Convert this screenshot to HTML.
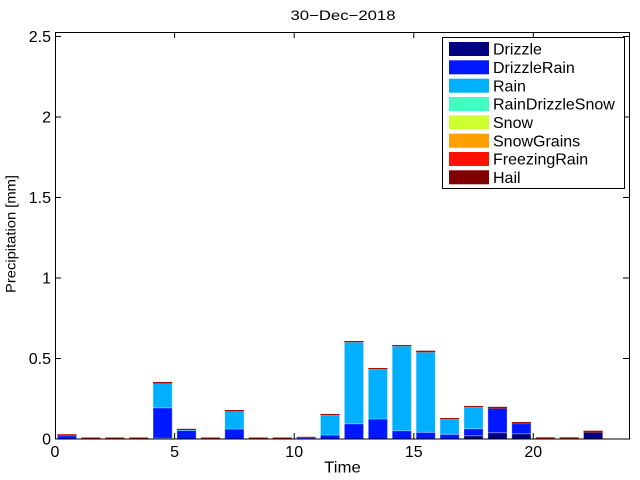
<!DOCTYPE html>
<html><head><meta charset="utf-8"><style>
html,body{margin:0;padding:0;background:#fff;}
svg{display:block;}
text{font-family:"Liberation Sans",Arial,sans-serif;fill:#000;}
</style></head><body>
<svg width="640" height="480" viewBox="0 0 640 480" xmlns="http://www.w3.org/2000/svg">
<rect x="0" y="0" width="640" height="480" fill="#fff"/>
<text x="343" y="20" font-size="14" text-anchor="middle" textLength="105" lengthAdjust="spacingAndGlyphs">30−Dec−2018</text>

<g stroke="#ffffff" stroke-opacity="0.3" stroke-width="1">
<!-- hour 0 -->
<rect x="57.39" y="435.8" width="19.13" height="3.2" fill="#0018ff"/>
<!-- hour 4 -->
<rect x="153.07" y="438.2" width="19.13" height="0.8" fill="#000080"/>
<rect x="153.07" y="407.8" width="19.13" height="30.4" fill="#0018ff"/>
<rect x="153.07" y="383.5" width="19.13" height="24.3" fill="#00b0ff"/>
<!-- hour 5 -->
<rect x="176.98" y="430.5" width="19.13" height="8.5" fill="#0018ff"/>
<rect x="176.98" y="430" width="19.13" height="0.5" fill="#00b0ff"/>
<!-- hour 7 -->
<rect x="224.82" y="429" width="19.13" height="10" fill="#0018ff"/>
<rect x="224.82" y="411" width="19.13" height="18" fill="#00b0ff"/>
<!-- hour 10 -->
<rect x="296.57" y="437.8" width="19.13" height="1.2" fill="#0018ff"/>
<!-- hour 11 -->
<rect x="320.48" y="435" width="19.13" height="4" fill="#0018ff"/>
<rect x="320.48" y="415.2" width="19.13" height="19.8" fill="#00b0ff"/>
<!-- hour 12 -->
<rect x="344.40" y="423.7" width="19.13" height="15.3" fill="#0018ff"/>
<rect x="344.40" y="342.3" width="19.13" height="81.4" fill="#00b0ff"/>
<!-- hour 13 -->
<rect x="368.32" y="419" width="19.13" height="20" fill="#0018ff"/>
<rect x="368.32" y="369.2" width="19.13" height="49.8" fill="#00b0ff"/>
<!-- hour 14 -->
<rect x="392.23" y="430.7" width="19.13" height="8.3" fill="#0018ff"/>
<rect x="392.23" y="346.2" width="19.13" height="84.5" fill="#00b0ff"/>
<!-- hour 15 -->
<rect x="416.15" y="432.3" width="19.13" height="6.7" fill="#0018ff"/>
<rect x="416.15" y="352.3" width="19.13" height="80" fill="#00b0ff"/>
<!-- hour 16 -->
<rect x="440.07" y="434.3" width="19.13" height="4.7" fill="#0018ff"/>
<rect x="440.07" y="419.2" width="19.13" height="15.1" fill="#00b0ff"/>
<!-- hour 17 -->
<rect x="463.98" y="435.7" width="19.13" height="3.3" fill="#000080"/>
<rect x="463.98" y="428.7" width="19.13" height="7" fill="#0018ff"/>
<rect x="463.98" y="407.2" width="19.13" height="21.5" fill="#00b0ff"/>
<!-- hour 18 -->
<rect x="487.90" y="432.7" width="19.13" height="6.3" fill="#000080"/>
<rect x="487.90" y="408.5" width="19.13" height="24.2" fill="#0018ff"/>
<!-- hour 19 -->
<rect x="511.82" y="433.7" width="19.13" height="5.3" fill="#000080"/>
<rect x="511.82" y="423.7" width="19.13" height="10" fill="#0018ff"/>
<!-- hour 22 -->
<rect x="583.57" y="432.5" width="19.13" height="6.5" fill="#000080"/>
</g>

<!-- caps: freezing rain + hail -->
<g>
<rect x="57.39" y="434.2" width="19.13" height="1.6" fill="#c01000"/>
<rect x="81.31" y="437.5" width="19.13" height="1.5" fill="#a01000"/>
<rect x="105.23" y="437.5" width="19.13" height="1.5" fill="#a01000"/>
<rect x="129.15" y="437.5" width="19.13" height="1.5" fill="#a01000"/>
<rect x="153.07" y="382" width="19.13" height="1.5" fill="#a01000"/>
<rect x="176.98" y="428.8" width="19.13" height="1.2" fill="#a01000"/>
<rect x="200.90" y="437.5" width="19.13" height="1.5" fill="#a01000"/>
<rect x="224.82" y="410" width="19.13" height="1.2" fill="#a01000"/>
<rect x="248.73" y="437.5" width="19.13" height="1.5" fill="#a01000"/>
<rect x="272.65" y="437.5" width="19.13" height="1.5" fill="#a01000"/>
<rect x="296.57" y="436.8" width="19.13" height="1.0" fill="#a01000"/>
<rect x="320.48" y="414" width="19.13" height="1.2" fill="#a01000"/>
<rect x="344.40" y="341" width="19.13" height="1.3" fill="#a01000"/>
<rect x="368.32" y="368" width="19.13" height="1.2" fill="#a01000"/>
<rect x="392.23" y="345" width="19.13" height="1.2" fill="#a01000"/>
<rect x="416.15" y="350.7" width="19.13" height="1.6" fill="#a01000"/>
<rect x="440.07" y="418" width="19.13" height="1.2" fill="#a01000"/>
<rect x="463.98" y="406" width="19.13" height="1.2" fill="#a01000"/>
<rect x="487.90" y="406.8" width="19.13" height="1.7" fill="#a01000"/>
<rect x="511.82" y="422" width="19.13" height="1.7" fill="#a01000"/>
<rect x="535.73" y="437.3" width="19.13" height="1.7" fill="#b01800"/>
<rect x="559.65" y="437.3" width="19.13" height="1.7" fill="#b01800"/>
<rect x="583.57" y="430.7" width="19.13" height="1.8" fill="#a01000"/>
</g>

<!-- axes box -->
<rect x="55.5" y="32.5" width="574" height="406.5" fill="none" stroke="#000" stroke-width="1"/>
<!-- x ticks -->
<g stroke="#000" stroke-width="1">
<line x1="174.6" y1="439" x2="174.6" y2="433"/>
<line x1="294.2" y1="439" x2="294.2" y2="433"/>
<line x1="413.8" y1="439" x2="413.8" y2="433"/>
<line x1="533.3" y1="439" x2="533.3" y2="433"/>
<line x1="174.6" y1="32" x2="174.6" y2="38"/>
<line x1="294.2" y1="32" x2="294.2" y2="38"/>
<line x1="413.8" y1="32" x2="413.8" y2="38"/>
<line x1="533.3" y1="32" x2="533.3" y2="38"/>
<!-- y ticks -->
<line x1="55" y1="358.5" x2="61" y2="358.5"/>
<line x1="55" y1="278" x2="61" y2="278"/>
<line x1="55" y1="197.5" x2="61" y2="197.5"/>
<line x1="55" y1="117" x2="61" y2="117"/>
<line x1="55" y1="36.5" x2="61" y2="36.5"/>
<line x1="629" y1="358.5" x2="623" y2="358.5"/>
<line x1="629" y1="278" x2="623" y2="278"/>
<line x1="629" y1="197.5" x2="623" y2="197.5"/>
<line x1="629" y1="117" x2="623" y2="117"/>
<line x1="629" y1="36.5" x2="623" y2="36.5"/>
</g>

<!-- tick labels -->
<g font-size="16">
<text x="55" y="457" text-anchor="middle">0</text>
<text x="174.6" y="457" text-anchor="middle">5</text>
<text x="294.2" y="457" text-anchor="middle">10</text>
<text x="413.8" y="457" text-anchor="middle">15</text>
<text x="533.3" y="457" text-anchor="middle">20</text>
<text x="51" y="444.5" text-anchor="end">0</text>
<text x="51" y="364" text-anchor="end">0.5</text>
<text x="51" y="283.5" text-anchor="end">1</text>
<text x="51" y="203" text-anchor="end">1.5</text>
<text x="51" y="122.5" text-anchor="end">2</text>
<text x="51" y="42" text-anchor="end">2.5</text>
</g>

<text x="342.5" y="472.7" font-size="16" text-anchor="middle" textLength="36.7" lengthAdjust="spacingAndGlyphs">Time</text>
<text transform="translate(15.5,234) rotate(-90)" font-size="14" text-anchor="middle" textLength="118" lengthAdjust="spacingAndGlyphs">Precipitation [mm]</text>

<!-- legend -->
<rect x="442.5" y="37.5" width="182" height="151" fill="#fff" stroke="#000" stroke-width="1"/>
<g>
<rect x="449" y="42" width="40" height="14" fill="#000080"/>
<rect x="449" y="60.3" width="40" height="14" fill="#0018ff"/>
<rect x="449" y="78.7" width="40" height="14" fill="#00b0ff"/>
<rect x="449" y="97" width="40" height="14" fill="#40ffc0"/>
<rect x="449" y="115.3" width="40" height="14" fill="#d0ff30"/>
<rect x="449" y="133.7" width="40" height="14" fill="#ffa000"/>
<rect x="449" y="152" width="40" height="14" fill="#ff1000"/>
<rect x="449" y="170.3" width="40" height="14" fill="#800000"/>
</g>
<g font-size="16">
<text x="493" y="54.7">Drizzle</text>
<text x="493" y="73">DrizzleRain</text>
<text x="493" y="91.4">Rain</text>
<text x="493" y="109.7">RainDrizzleSnow</text>
<text x="493" y="128">Snow</text>
<text x="493" y="146.4">SnowGrains</text>
<text x="493" y="164.7">FreezingRain</text>
<text x="493" y="183">Hail</text>
</g>
</svg>
</body></html>
